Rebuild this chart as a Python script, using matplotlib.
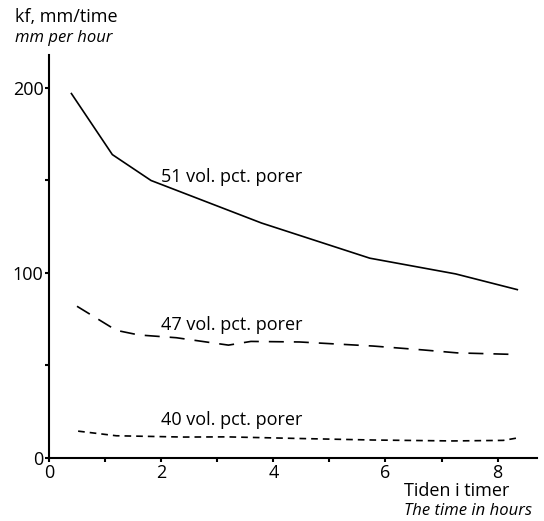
import matplotlib
matplotlib.use("Agg")
import matplotlib.pyplot as plt
from matplotlib.ticker import MultipleLocator

plt.rcParams['font.family'] = ['Open Sans', 'DejaVu Sans']

# infiltration rate kf (mm per hour) against time, three pore volumes
hours_51 = [0.4, 1.13, 1.82, 3.79, 5.72, 7.25, 8.35]
kf_51 = [197, 164, 150, 127, 108, 99.5, 91]

hours_47 = [0.5, 1.2, 1.6, 2.27, 3.2, 3.6, 4.47, 5.78, 6.67, 7.28, 8.26]
kf_47 = [82, 69, 66.5, 65, 61, 63, 62.7, 60.5, 58.4, 56.8, 56]

hours_40 = [0.52, 1.2, 2.4, 3.17, 4.5, 5.78, 7.2, 8.1, 8.35]
kf_40 = [14.5, 12, 11.3, 11.4, 10.5, 9.7, 9.2, 9.5, 10.8]

labels = ["51 vol. pct. porer", "47 vol. pct. porer", "40 vol. pct. porer"]
label_pos = [(2.0, 152), (2.0, 72), (2.0, 20.5)]

fig = plt.figure(figsize=(5.44, 5.21), dpi=100)
ax = fig.add_axes([0.09, 0.121, 0.897, 0.774])

ax.plot(hours_51, kf_51, color='black', lw=1.2)
ax.plot(hours_47, kf_47, color='black', lw=1.2, dashes=(9, 6))
ax.plot(hours_40, kf_40, color='black', lw=1.2, dashes=(4, 3))

for txt, (x, y) in zip(labels, label_pos):
    ax.text(x, y, txt, fontsize=13, va='center', ha='left')

ax.set_xlim(0, 8.7)
ax.set_ylim(0, 218)
ax.xaxis.set_major_locator(MultipleLocator(2))
ax.xaxis.set_minor_locator(MultipleLocator(1))
ax.yaxis.set_major_locator(MultipleLocator(100))
ax.yaxis.set_minor_locator(MultipleLocator(50))
ax.tick_params(which='both', direction='out', length=3, width=1.5, labelsize=13, pad=1)

for side in ['top', 'right']:
    ax.spines[side].set_visible(False)
for side in ['left', 'bottom']:
    ax.spines[side].set_linewidth(1.5)

fig.text(0.027, 0.967, "kf, mm/time", fontsize=13, va='center', ha='left')
fig.text(0.027, 0.927, "mm per hour", fontsize=12, va='center', ha='left', style='italic')
fig.text(0.742, 0.057, "Tiden i timer", fontsize=13, va='center', ha='left')
fig.text(0.742, 0.02, "The time in hours", fontsize=12, va='center', ha='left', style='italic')

fig.savefig("out.png", dpi=100)
